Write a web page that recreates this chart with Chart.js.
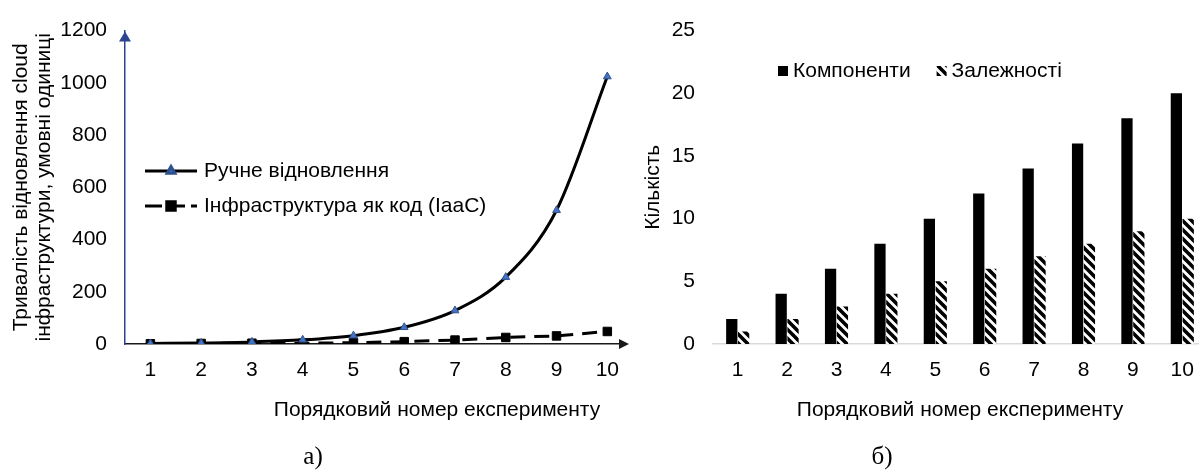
<!DOCTYPE html>
<html>
<head>
<meta charset="utf-8">
<script src="https://cdn.jsdelivr.net/npm/chart.js@4.4.0/dist/chart.umd.min.js"></script>
<style>
  html, body { margin: 0; padding: 0; background: #fff; overflow: hidden; }
  #wrap { position: relative; width: 1199px; height: 473px; overflow: hidden; }
  #left { position: absolute; left: 0; top: 0; width: 640px; height: 473px; }
  #right { position: absolute; left: 620px; top: 0; width: 590px; height: 473px; }
</style>
</head>
<body>
<div id="wrap">
  <div id="right"><canvas id="barChart"></canvas></div>
  <div id="left"><canvas id="lineChart"></canvas></div>
</div>
<script>
// data
const experiments = [1, 2, 3, 4, 5, 6, 7, 8, 9, 10];
const manualRecovery = [2, 4, 8, 16, 32, 64, 128, 256, 512, 1024];
const iacRecovery = [1, 2, 3, 3, 5, 9, 15, 25, 31, 48];
const lineTicks = [0, 200, 400, 600, 800, 1000, 1200];

const components = [2, 4, 6, 8, 10, 12, 14, 16, 18, 20];
const dependencies = [1, 2, 3, 4, 5, 6, 7, 8, 9, 10];

const SANS = "'Liberation Sans', Arial, sans-serif";
const SERIF = "'Liberation Serif', 'Times New Roman', serif";
const FS = 21;
const tickFont = { family: SANS, size: FS };

// diagonal hatch for the second bar series
function makeHatch() {
  const s = 9;
  const c = document.createElement('canvas');
  c.width = s; c.height = s;
  const g = c.getContext('2d');
  g.fillStyle = '#fff';
  g.fillRect(0, 0, s, s);
  g.strokeStyle = '#000';
  g.lineWidth = 3.6;
  g.beginPath();
  g.moveTo(-2, -2); g.lineTo(s + 2, s + 2);
  g.moveTo(-2, s - 2); g.lineTo(2, s + 2);
  g.moveTo(s - 2, -2); g.lineTo(s + 2, 2);
  g.stroke();
  return g.createPattern(c, 'repeat');
}

// free text (axis captions, figure letters)
function makeCaptions(items) {
  return {
    id: 'captions',
    afterDraw(chart) {
      const ctx = chart.ctx;
      items.forEach(it => {
        ctx.save();
        ctx.font = it.font;
        ctx.fillStyle = '#000';
        ctx.textAlign = 'center';
        ctx.textBaseline = 'middle';
        ctx.fillText(it.text, it.x, it.y);
        ctx.restore();
      });
    }
  };
}

// arrow heads on the axes of the left chart
const axisArrows = {
  id: 'axisArrows',
  afterDraw(chart) {
    const { ctx, chartArea: a } = chart;
    ctx.save();
    ctx.fillStyle = '#2b4590';
    ctx.beginPath();
    ctx.moveTo(a.left, a.top + 1);
    ctx.lineTo(a.left - 6, a.top + 11);
    ctx.lineTo(a.left + 6, a.top + 11);
    ctx.closePath();
    ctx.fill();
    ctx.fillStyle = '#1a1a1a';
    ctx.beginPath();
    ctx.moveTo(a.right + 9, a.bottom);
    ctx.lineTo(a.right - 1, a.bottom - 5);
    ctx.lineTo(a.right - 1, a.bottom + 5);
    ctx.closePath();
    ctx.fill();
    ctx.restore();
  }
};

// legend with line sample + marker, like the office chart
const lineLegend = {
  id: 'lineLegend',
  afterDraw(chart) {
    const ctx = chart.ctx;
    const x0 = 145, x1 = 197, tx = 204, y0 = 171, gap = 35;
    chart.data.datasets.forEach((ds, i) => {
      const y = y0 + i * gap;
      ctx.save();
      ctx.strokeStyle = ds.borderColor;
      ctx.lineWidth = ds.borderWidth;
      if (ds.borderDash) ctx.setLineDash([17, 6]);
      ctx.beginPath();
      ctx.moveTo(x0, y);
      ctx.lineTo(x1, y);
      ctx.stroke();
      ctx.setLineDash([]);
      ctx.fillStyle = ds.pointBackgroundColor;
      ctx.strokeStyle = ds.pointBorderColor;
      Chart.helpers.drawPoint(ctx, {
        pointStyle: ds.pointStyle, radius: ds.pointRadius, rotation: 0, borderWidth: ds.pointBorderWidth
      }, (x0 + x1) / 2, y);
      ctx.fillStyle = '#000';
      ctx.font = FS + 'px ' + SANS;
      ctx.textBaseline = 'middle';
      ctx.fillText(ds.label, tx, y);
      ctx.restore();
    });
  }
};

// legend with small squares on one row
const boxLegend = {
  id: 'boxLegend',
  afterDraw(chart) {
    const ctx = chart.ctx;
    let x = 158;
    const y = 71;
    ctx.save();
    ctx.font = FS + 'px ' + SANS;
    ctx.textBaseline = 'middle';
    chart.data.datasets.forEach(ds => {
      ctx.fillStyle = ds.backgroundColor;
      ctx.fillRect(x, y - 5, 10, 10);
      ctx.fillStyle = '#000';
      ctx.fillText(ds.label, x + 15, y);
      x += 15 + ctx.measureText(ds.label).width + 26;
    });
    ctx.restore();
  }
};

new Chart(document.getElementById('lineChart'), {
  type: 'line',
  data: {
    datasets: [
      {
        label: 'Ручне відновлення',
        data: experiments.map((x, i) => ({ x: x, y: manualRecovery[i] })),
        borderColor: '#000',
        borderWidth: 3,
        cubicInterpolationMode: 'monotone',
        pointStyle: 'triangle',
        pointRadius: 4.5,
        pointBackgroundColor: '#4472c4',
        pointBorderColor: '#2f528f',
        pointBorderWidth: 1
      },
      {
        label: 'Інфраструктура як код (IaaC)',
        data: experiments.map((x, i) => ({ x: x, y: iacRecovery[i] })),
        borderColor: '#000',
        borderWidth: 3,
        borderDash: [15, 9],
        pointStyle: 'rect',
        pointRadius: 6,
        pointBackgroundColor: '#000',
        pointBorderColor: '#000',
        pointBorderWidth: 1
      }
    ]
  },
  options: {
    animation: false,
    responsive: true,
    maintainAspectRatio: false,
    events: [],
    layout: { padding: { top: 25, right: 20, left: 0, bottom: 0 } },
    scales: {
      x: {
        type: 'linear',
        min: 0.5,
        max: 10.25,
        afterBuildTicks: s => { s.ticks = experiments.map(v => ({ value: v })); },
        afterFit: s => { s.height = 129; },
        grid: { display: false, drawTicks: false },
        border: { color: '#1a1a1a', width: 1.5 },
        ticks: { padding: 14, color: '#000', font: tickFont }
      },
      y: {
        min: 0,
        max: 1200,
        afterBuildTicks: s => { s.ticks = lineTicks.map(v => ({ value: v })); },
        afterFit: s => { s.width = 125; },
        grid: { display: false, drawTicks: false },
        border: { color: '#2b4590', width: 1.5 },
        ticks: { padding: 18, color: '#000', font: tickFont, callback: v => String(v) },
        title: {
          display: true,
          text: ['Тривалість відновлення cloud', 'інфраструктури, умовні одиниці'],
          color: '#000',
          font: { family: SANS, size: FS, lineHeight: 1.1 },
          padding: { top: 10, bottom: 0 }
        }
      }
    },
    plugins: { legend: { display: false }, tooltip: { enabled: false } }
  },
  plugins: [axisArrows, lineLegend, makeCaptions([
    { text: 'Порядковий номер експерименту', x: 437, y: 410, font: FS + 'px ' + SANS },
    { text: 'а)', x: 313, y: 457, font: '25px ' + SERIF }
  ])]
});

new Chart(document.getElementById('barChart'), {
  type: 'bar',
  data: {
    labels: experiments,
    datasets: [
      { label: 'Компоненти', data: components, backgroundColor: '#000', categoryPercentage: 0.48, barPercentage: 0.95 },
      { label: 'Залежності', data: dependencies, backgroundColor: makeHatch(), categoryPercentage: 0.48, barPercentage: 0.95 }
    ]
  },
  options: {
    animation: false,
    responsive: true,
    maintainAspectRatio: false,
    events: [],
    layout: { padding: { top: 27, right: 3, left: 0, bottom: 0 } },
    scales: {
      x: {
        afterFit: s => { s.height = 129; },
        grid: { display: false, drawTicks: false },
        border: { color: '#d9d9d9', width: 1.5 },
        ticks: { padding: 14, color: '#000', font: tickFont }
      },
      y: {
        min: 0,
        max: 25,
        afterFit: s => { s.width = 93; },
        grid: { display: false, drawTicks: false },
        border: { display: false },
        ticks: { stepSize: 5, padding: 18, color: '#000', font: tickFont },
        title: {
          display: true,
          text: 'Кількість',
          color: '#000',
          font: { family: SANS, size: FS },
          padding: { top: 21, bottom: 0 }
        }
      }
    },
    plugins: { legend: { display: false }, tooltip: { enabled: false } }
  },
  plugins: [boxLegend, makeCaptions([
    { text: 'Порядковий номер експерименту', x: 340, y: 410, font: FS + 'px ' + SANS },
    { text: 'б)', x: 262, y: 457, font: '25px ' + SERIF }
  ])]
});
</script>
</body>
</html>
